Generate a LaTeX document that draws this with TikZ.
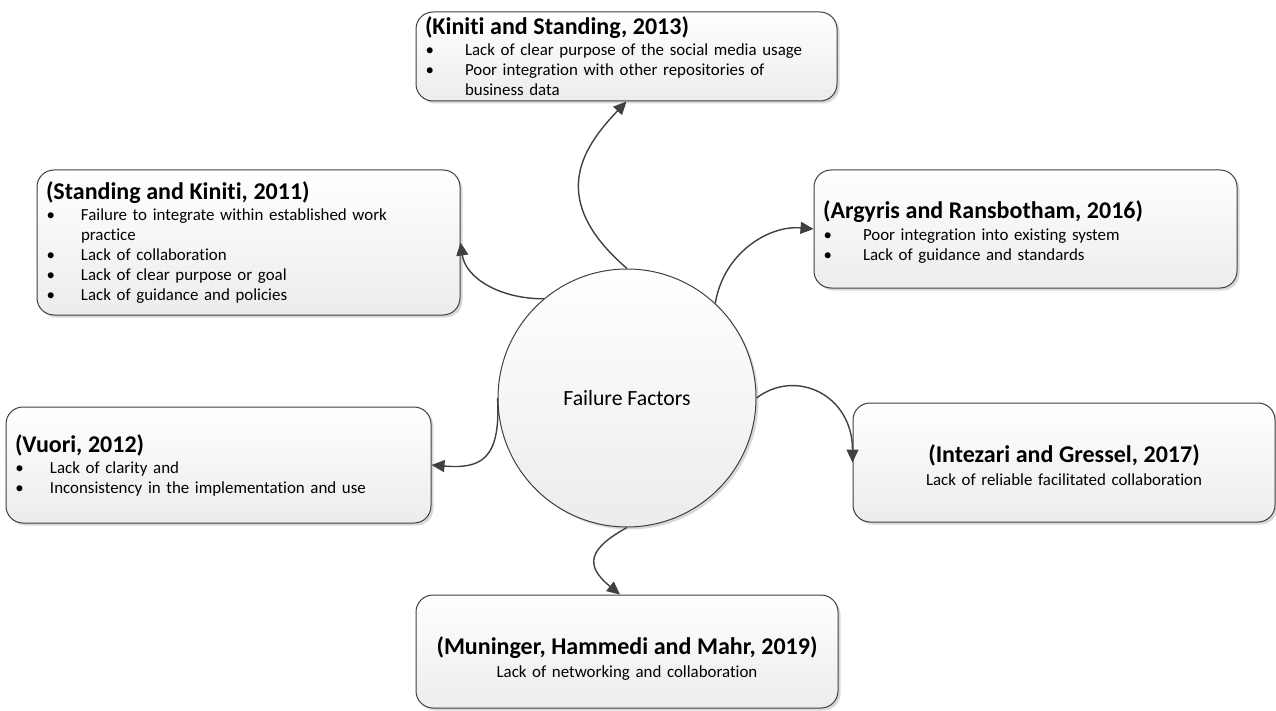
\documentclass[tikz,border=0pt]{standalone}
\usepackage{fontspec}
\setmainfont{Carlito}[Ligatures=NoCommon]
\usetikzlibrary{arrows.meta,shadows}
\definecolor{edge}{HTML}{404040}
\definecolor{boxbot}{HTML}{ECECEC}

% bullet item (argument: tab stop of the item text), continuation indent, bold heading
\newcommand{\bl}[1][35pt]{\makebox[#1][l]{\hspace*{0.5pt}\textbullet}}
\newcommand{\cont}[1][35pt]{\hspace*{#1}}
\newcommand{\ttl}[1]{{\fontsize{24}{26}\selectfont\bfseries #1}}

\begin{document}
\begin{tikzpicture}[x=1pt,y=-1pt,
  refbox/.style={draw=edge, line width=1pt, rounded corners=17pt,
    top color=white, bottom color=boxbot,
    drop shadow={shadow xshift=2.5pt,shadow yshift=-2.5pt,opacity=.3,fill=black!50},
    inner xsep=9pt, inner ysep=0pt, font=\fontsize{16.9}{20}\selectfont},
  leftbox/.style={refbox, align=left},
  midbox/.style={refbox, align=center},
  link/.style={draw=edge, line width=1.4pt, -{Triangle[length=13pt,width=12pt]}},
]
\useasboundingbox (0,0) rectangle (1276,711);

% central topic
\node[circle, draw=edge, line width=1pt, minimum size=258pt, inner sep=0pt,
  top color=white, bottom color=boxbot,
  drop shadow={shadow xshift=2.5pt,shadow yshift=-2.5pt,opacity=.3,fill=black!50},
  font=\fontsize{21.7}{24}\selectfont] (c) at (627,398) {Failure Factors};

% sources
\node[leftbox, text width=403pt, minimum height=89pt] (k) at (626.5,56.5)
  {\ttl{(Kiniti and Standing, 2013)}\\[1pt]
   \bl[40pt]Lack of clear purpose of the social media usage\\
   \bl[40pt]Poor integration with other repositories of\\
   \cont[40pt]business data};

\node[leftbox, text width=405pt, minimum height=145pt] (s) at (248.5,242.5)
  {\ttl{(Standing and Kiniti, 2011)}\\[1pt]
   \bl Failure to integrate within established work\\
   \cont practice\\
   \bl Lack of collaboration\\
   \bl Lack of clear purpose or goal\\
   \bl Lack of guidance and policies};

\node[leftbox, text width=405pt, minimum height=118pt] (a) at (1025.5,229)
  {\rule{0pt}{24pt}\ttl{(Argyris and Ransbotham, 2016)}\\[2pt]
   \bl[40pt]Poor integration into existing system\\
   \bl[40pt]Lack of guidance and standards};

\node[leftbox, text width=407pt, minimum height=116pt] (v) at (218.5,465)
  {\ttl{(Vuori, 2012)}\\[1pt]
   \bl Lack of clarity and\\
   \bl Inconsistency in the implementation and use};

\node[midbox, text width=404pt, minimum height=119pt] (i) at (1064,462.5)
  {\rule{0pt}{24pt}\ttl{(Intezari and Gressel, 2017)}\\[3pt]
   Lack of reliable facilitated collaboration};

\node[midbox, text width=404pt, minimum height=113pt] (m) at (627,651.5)
  {\rule{0pt}{32pt}\ttl{(Muninger, Hammedi and Mahr, 2019)}\\[3pt]
   Lack of networking and collaboration};

% curved links from the centre to each source
\draw[link] (c.90)  .. controls +(-79,-68) and +(-46,48)  .. (k.south);
\draw[link] (c.130) .. controls +(-45,0)   and +(5,35)    .. (s.east);
\draw[link] (c.47)  .. controls +(8,-50)   and +(-45,-4)  .. (a.west);
\draw[link] (c.180) .. controls +(3.5,62)  and +(49,4)    .. (v.east);
\draw[link] (c.0)   .. controls +(39.5,-30) and +(0,-67.5) .. (i.west);
\draw[link] (c.270) .. controls +(-37,20.5) and +(-37,-30) .. ([xshift=-7pt]m.north);
\end{tikzpicture}
\end{document}
